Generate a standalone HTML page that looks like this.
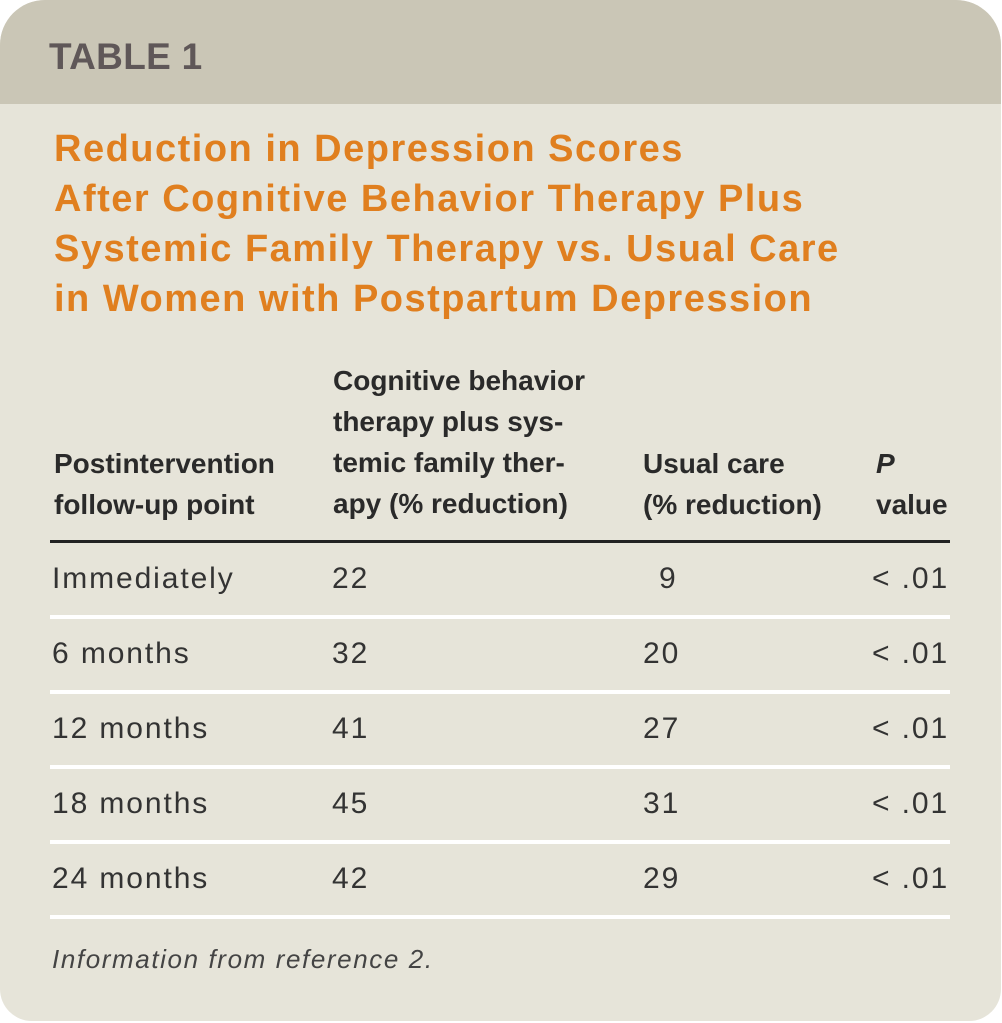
<!DOCTYPE html>
<html><head><style>
body{margin:0;background:#fff;width:1002px;height:1023px;overflow:hidden;font-family:"Liberation Sans",sans-serif}
.card{position:absolute;left:0;top:0;width:1001px;height:1021px;background:#e6e4d9;border-radius:45px 45px 32px 32px;overflow:hidden}
.hd{position:absolute;left:0;top:0;width:100%;height:104px;background:#cac6b6}
.t1{position:absolute;left:49px;top:36px;font-size:37px;font-weight:bold;color:#5f5758;letter-spacing:0.3px}
.title{position:absolute;left:54px;top:124px;font-size:38px;line-height:50px;font-weight:bold;color:#e07f1f;white-space:nowrap;letter-spacing:1.5px}
.h{position:absolute;font-size:28px;line-height:41px;font-weight:bold;color:#2a2a2a;white-space:nowrap;letter-spacing:0px}
.d{position:absolute;font-size:30px;color:#333;white-space:nowrap;letter-spacing:1.9px}
.thick{position:absolute;left:50px;width:900px;top:540px;height:3px;background:#222}
.w{position:absolute;left:50px;width:900px;height:4px;background:#fff}
.fn{position:absolute;left:52px;top:944px;font-size:26px;font-style:italic;color:#444;letter-spacing:1.6px}
</style></head><body>
<div class="card">
<div class="hd"></div>
<div class="t1">TABLE 1</div>
<div class="title">Reduction in Depression Scores<br>After Cognitive Behavior Therapy Plus<br>Systemic Family Therapy vs. Usual Care<br>in Women with Postpartum Depression</div>
<div class="h" style="left:54px;top:443px">Postintervention<br>follow-up point</div>
<div class="h" style="left:333px;top:360px">Cognitive behavior<br>therapy plus sys-<br>temic family ther-<br>apy (% reduction)</div>
<div class="h" style="left:643px;top:443px">Usual care<br>(% reduction)</div>
<div class="h" style="left:876px;top:443px"><i>P</i><br>value</div>
<div class="thick"></div>
<div class="d" style="left:52px;top:562px">Immediately</div><div class="d" style="left:332px;top:562px">22</div><div class="d" style="left:659px;top:562px">9</div><div class="d" style="left:872px;top:562px">&lt; .01</div>
<div class="w" style="top:615px"></div>
<div class="d" style="left:52px;top:637px">6 months</div><div class="d" style="left:643px;top:637px">20</div><div class="d" style="left:332px;top:637px">32</div><div class="d" style="left:872px;top:637px">&lt; .01</div>
<div class="w" style="top:690px"></div>
<div class="d" style="left:52px;top:712px">12 months</div><div class="d" style="left:332px;top:712px">41</div><div class="d" style="left:643px;top:712px">27</div><div class="d" style="left:872px;top:712px">&lt; .01</div>
<div class="w" style="top:765px"></div>
<div class="d" style="left:52px;top:787px">18 months</div><div class="d" style="left:332px;top:787px">45</div><div class="d" style="left:643px;top:787px">31</div><div class="d" style="left:872px;top:787px">&lt; .01</div>
<div class="w" style="top:840px"></div>
<div class="d" style="left:52px;top:862px">24 months</div><div class="d" style="left:332px;top:862px">42</div><div class="d" style="left:643px;top:862px">29</div><div class="d" style="left:872px;top:862px">&lt; .01</div>
<div class="w" style="top:915px"></div>
<div class="fn">Information from reference 2.</div>
</div>
</body></html>
